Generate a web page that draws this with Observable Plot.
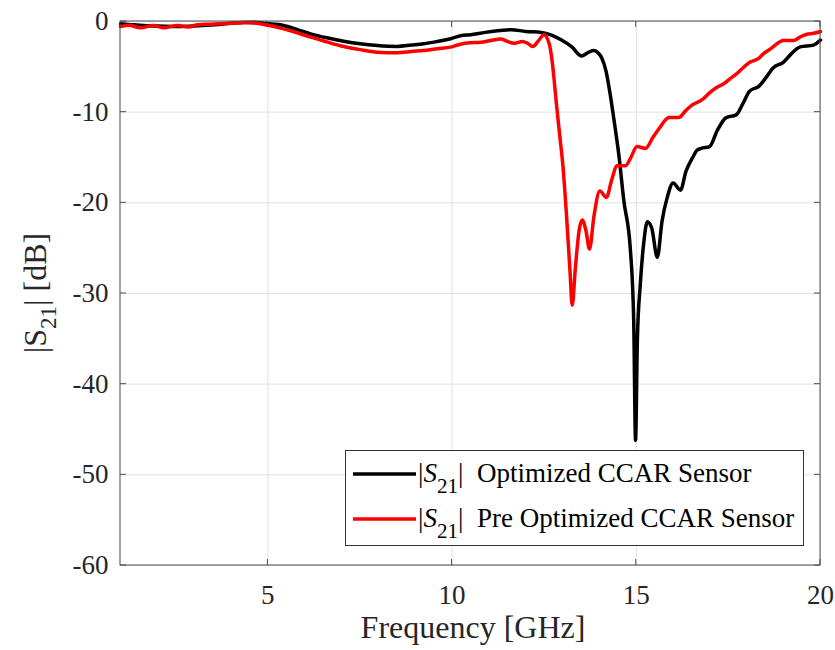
<!DOCTYPE html>
<html>
<head>
<meta charset="utf-8">
<script src="https://cdn.jsdelivr.net/npm/d3@7"></script>
<script src="https://cdn.jsdelivr.net/npm/@observablehq/plot@0.6"></script>
<style>
  body { margin: 0; background: #fff; }
  #chart { width: 835px; height: 650px; }
</style>
</head>
<body>
<div id="chart"></div>
<script>
// ---- data ----
const seriesNames = ["Optimized CCAR Sensor", "Pre Optimized CCAR Sensor"];
const seriesColors = ["#000000", "#ff0000"];

const freqOpt = [1.0, 1.3, 1.63, 2.0, 2.54, 3.0, 3.44, 4.0, 4.35, 4.6, 4.89, 5.2, 5.43, 5.8, 6.16, 6.6, 7.06, 7.5, 7.97, 8.51, 8.9, 9.23, 9.6, 9.96, 10.23, 10.5, 10.9, 11.3, 11.6, 12.0, 12.42, 12.7, 12.97, 13.25, 13.51, 13.7, 13.84, 13.95, 14.06, 14.18, 14.29, 14.4, 14.52, 14.66, 14.84, 14.93, 14.98, 15.03, 15.11, 15.2, 15.3, 15.42, 15.57, 15.7, 15.84, 16.0, 16.2, 16.35, 16.53, 16.65, 16.76, 16.99, 17.2, 17.44, 17.71, 17.9, 18.07, 18.34, 18.5, 18.72, 18.99, 19.2, 19.45, 19.81, 20.0];
const s21Opt = [-0.26, -0.35, -0.44, -0.5, -0.55, -0.5, -0.4, -0.2, -0.1, -0.08, -0.18, -0.3, -0.44, -0.9, -1.36, -1.8, -2.17, -2.45, -2.65, -2.75, -2.6, -2.46, -2.2, -1.9, -1.57, -1.45, -1.2, -1.0, -0.9, -1.1, -1.2, -1.5, -2.05, -2.8, -3.8, -3.4, -3.2, -3.4, -4.0, -5.5, -8, -11, -14.5, -19.7, -25.2, -33, -46.2, -35, -28.9, -24.5, -22.1, -22.8, -26, -22, -19.4, -17.8, -18.6, -16.5, -15, -14.2, -14, -13.8, -12, -10.6, -10.3, -9, -7.7, -7.1, -6.3, -5.1, -4.5, -3.6, -2.8, -2.6, -2.05];

const freqPre = [1.0, 1.23, 1.54, 1.9, 2.17, 2.54, 2.85, 3.1, 3.44, 4.0, 4.35, 4.89, 5.43, 5.8, 6.16, 6.6, 7.06, 7.5, 7.97, 8.51, 8.9, 9.23, 9.6, 9.96, 10.23, 10.48, 10.78, 11.05, 11.32, 11.5, 11.69, 11.91, 12.05, 12.19, 12.35, 12.49, 12.64, 12.72, 12.83, 12.92, 13.01, 13.1, 13.2, 13.26, 13.35, 13.45, 13.53, 13.63, 13.73, 13.85, 14.01, 14.19, 14.33, 14.48, 14.71, 14.84, 15.02, 15.25, 15.45, 15.62, 15.89, 16.15, 16.35, 16.52, 16.8, 16.98, 17.17, 17.4, 17.55, 17.71, 17.9, 18.08, 18.31, 18.47, 18.63, 19.0, 19.27, 19.45, 19.63, 19.82, 20.0];
const s21Pre = [-0.55, -0.4, -0.7, -0.44, -0.7, -0.44, -0.6, -0.35, -0.3, -0.2, -0.1, -0.33, -0.81, -1.25, -1.73, -2.25, -2.76, -3.1, -3.38, -3.45, -3.3, -3.2, -3.0, -2.83, -2.5, -2.35, -2.3, -2.1, -1.94, -2.2, -2.4, -2.2, -2.4, -2.76, -2.1, -1.46, -2.5, -4.5, -9, -12.5, -16, -21, -27.5, -31.3, -27, -23, -21.9, -23, -25.1, -21.5, -18.7, -19.4, -17.5, -15.9, -15.9, -15.1, -13.8, -14, -12.8, -11.8, -10.6, -10.6, -9.8, -9.2, -8.6, -7.9, -7.3, -6.8, -6.3, -5.8, -5.1, -4.5, -4.1, -3.5, -3.05, -2.1, -2.1, -1.7, -1.4, -1.3, -1.1];

const xDomain = [1, 20];
const yDomain = [-60, 0];
const xTicks = [5, 10, 15, 20];
const yTicks = [0, -10, -20, -30, -40, -50, -60];

// ---- build table ----
const rows = [
  ...freqOpt.map((f, i) => ({f, v: s21Opt[i], s: seriesNames[0]})),
  ...freqPre.map((f, i) => ({f, v: s21Pre[i], s: seriesNames[1]}))
];

const serif = "'Liberation Serif', 'Times New Roman', serif";
const axisColor = "#262626";

const chart = Plot.plot({
  width: 835,
  height: 650,
  marginLeft: 120,
  marginRight: 15,
  marginTop: 21,
  marginBottom: 85,
  style: {fontFamily: serif, fontSize: "27px", background: "#fff", color: axisColor},
  x: {domain: xDomain},
  y: {domain: yDomain},
  color: {domain: seriesNames, range: seriesColors},
  marks: [
    Plot.gridX(xTicks, {stroke: "#e2e2e2", strokeOpacity: 1, strokeWidth: 1}),
    Plot.gridY(yTicks, {stroke: "#e2e2e2", strokeOpacity: 1, strokeWidth: 1}),
    Plot.axisX(xTicks, {tickSize: 0, tickPadding: 19, tickFormat: d => String(d), label: null, fontSize: 27, fill: axisColor}),
    Plot.axisY(yTicks, {tickSize: 0, tickPadding: 12, tickFormat: d => String(d), label: null, fontSize: 27, fill: axisColor}),
    Plot.line(rows, {x: "f", y: "v", z: "s", stroke: "s", strokeWidth: 3.5, curve: "monotone-x", strokeLinejoin: "round"})
  ]
});

document.getElementById("chart").appendChild(chart);

// ---- decorations: inner ticks, box, labels, legend ----
const svg = d3.select(chart);
const sx = chart.scale("x");
const sy = chart.scale("y");
const [xl, xr] = sx.range;
const [yb, yt] = sy.range;
const tickLen = 6;

const deco = svg.append("g").attr("stroke", "#4d4d4d").attr("stroke-width", 1).attr("fill", "none");
xTicks.forEach(t => {
  const px = sx.apply(t);
  deco.append("line").attr("x1", px).attr("x2", px).attr("y1", yb).attr("y2", yb - tickLen);
  deco.append("line").attr("x1", px).attr("x2", px).attr("y1", yt).attr("y2", yt + tickLen);
});
yTicks.forEach(t => {
  const py = sy.apply(t);
  deco.append("line").attr("x1", xl).attr("x2", xl + tickLen).attr("y1", py).attr("y2", py);
  deco.append("line").attr("x1", xr).attr("x2", xr - tickLen).attr("y1", py).attr("y2", py);
});
deco.append("rect").attr("x", xl).attr("y", yt).attr("width", xr - xl).attr("height", yb - yt);

// x label
svg.append("text")
  .attr("x", (xl + xr) / 2 + 3)
  .attr("y", 638)
  .attr("text-anchor", "middle")
  .attr("font-family", serif)
  .attr("font-size", 32)
  .attr("fill", axisColor)
  .text("Frequency [GHz]");

// y label with subscript
const yl = svg.append("text")
  .attr("transform", `translate(46, ${(yt + yb) / 2}) rotate(-90)`)
  .attr("text-anchor", "middle")
  .attr("font-family", serif)
  .attr("font-size", 32)
  .attr("fill", axisColor);
yl.append("tspan").text("|S");
yl.append("tspan").attr("font-size", 23).attr("dy", 10).text("21");
yl.append("tspan").attr("dy", -10).text("| [dB]");

// legend
const lg = svg.append("g");
lg.append("rect")
  .attr("x", 345.5).attr("y", 450.5).attr("width", 458).attr("height", 95)
  .attr("fill", "#fff").attr("stroke", "#333").attr("stroke-width", 1);
seriesNames.forEach((name, i) => {
  const cy = 474 + i * 45;
  lg.append("line").attr("x1", 353).attr("x2", 416).attr("y1", cy).attr("y2", cy)
    .attr("stroke", seriesColors[i]).attr("stroke-width", 3.5);
  const t = lg.append("text")
    .attr("x", 418).attr("y", cy + 8)
    .attr("text-anchor", "start")
    .attr("font-family", serif).attr("font-size", 27).attr("fill", "#000");
  t.append("tspan").text("|");
  t.append("tspan").attr("font-style", "italic").text("S");
  t.append("tspan").attr("font-size", 21).attr("dy", 11).text("21");
  t.append("tspan").attr("dy", -11).text("|");
  t.append("tspan").attr("dx", 7).text(" " + name);
});
</script>
</body>
</html>
